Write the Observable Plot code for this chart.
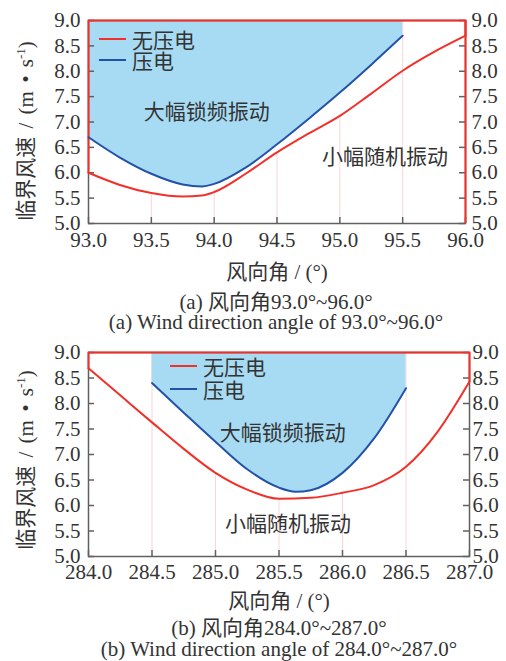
<!DOCTYPE html>
<html><head><meta charset="utf-8">
<script src="https://cdn.jsdelivr.net/npm/d3@7"></script>
<script src="https://cdn.jsdelivr.net/npm/@observablehq/plot@0.6"></script>
<style>
body{margin:0;background:#fff;}
#wrap{position:relative;width:506px;height:661px;overflow:hidden;font-family:"Liberation Serif","Noto Sans CJK SC",serif;color:#333;font-size:21px;}
.abs{position:absolute;white-space:nowrap;line-height:24px;}
.leg{position:absolute;white-space:nowrap;line-height:20px;}
.cen{position:absolute;left:0;width:506px;text-align:center;white-space:nowrap;line-height:22px;}
.panel{position:absolute;left:0;}
.lat{font-family:"Liberation Serif",serif;}
.cjk{font-family:"Noto Sans CJK SC",sans-serif;}
</style></head><body><div id="wrap"></div>
<script>
// ---------- data ----------
const yDomain = [5.0, 9.0];
const yTicks = [5.0, 5.5, 6.0, 6.5, 7.0, 7.5, 8.0, 8.5, 9.0];

// panel (a)
const xDomainA = [93.0, 96.0];
const xTicksA = [93.0, 93.5, 94.0, 94.5, 95.0, 95.5, 96.0];
const redXA = [93.0, 93.25, 93.5, 93.75, 93.9, 94.0, 94.25, 94.5, 94.75, 95.0, 95.25, 95.5, 95.75, 96.0];
const redYA = [6.00, 5.76, 5.60, 5.53, 5.55, 5.62, 5.98, 6.40, 6.77, 7.12, 7.56, 8.01, 8.38, 8.70];
const blueXA = [93.0, 93.25, 93.5, 93.75, 93.9, 94.0, 94.25, 94.5, 94.75, 95.0, 95.25, 95.5];
const blueYA = [6.70, 6.30, 5.98, 5.77, 5.73, 5.78, 6.10, 6.56, 7.06, 7.58, 8.13, 8.70];
const annoTextA = ["大幅锁频振动", "小幅随机振动"];
const annoXA = [93.94, 95.36];
const annoYA = [7.19, 6.30];
const captionA = ["(a) 风向角93.0°~96.0°", "(a) Wind direction angle of 93.0°~96.0°"];

// panel (b)
const xDomainB = [284.0, 287.0];
const xTicksB = [284.0, 284.5, 285.0, 285.5, 286.0, 286.5, 287.0];
const redXB = [284.0, 284.25, 284.5, 284.75, 285.0, 285.25, 285.5, 285.75, 286.0, 286.25, 286.5, 286.75, 287.0];
const redYB = [8.69, 8.16, 7.63, 7.11, 6.64, 6.31, 6.13, 6.15, 6.25, 6.40, 6.76, 7.45, 8.43];
const blueXB = [284.5, 284.75, 285.0, 285.25, 285.5, 285.63, 285.75, 286.0, 286.25, 286.5];
const blueYB = [8.40, 7.82, 7.25, 6.71, 6.35, 6.27, 6.30, 6.64, 7.32, 8.30];
const annoTextB = ["大幅锁频振动", "小幅随机振动"];
const annoXB = [285.53, 285.57];
const annoYB = [7.41, 5.63];
const captionB = ["(b) 风向角284.0°~287.0°", "(b) Wind direction angle of 284.0°~287.0°"];

const legendLabels = ["无压电", "压电"];
const xAxisLabel = "风向角 / (°)";
const yAxisLabel = "临界风速 / (m • s";
const yAxisSup = "-1";

// ---------- style ----------
const RED = "#f2302a", BLUE = "#2152a8", FILL = "#a7dbf4", AXIS = "#606060", GRID = "#f8d6d6";
const FONT = '"Liberation Serif","Noto Sans CJK SC",serif';
const CURVE = "monotone-x";
const wrap = document.getElementById("wrap");

// wrap runs of CJK / non-CJK chars in spans so Latin text stays in the serif face
function mixed(str) {
  const parts = str.match(/[\u3000-\u9fff\uff00-\uffef]+|[^\u3000-\u9fff\uff00-\uffef]+/g) || [];
  return parts.map(p => {
    const isCjk = /[\u3000-\u9fff\uff00-\uffef]/.test(p);
    const esc = p.replace(/&/g, "&amp;").replace(/</g, "&lt;");
    return `<span class="${isCjk ? "cjk" : "lat"}">${esc}</span>`;
  }).join("");
}

function panel(cfg) {
  const W = 506, mL = 88, mT = 20, mB = 30;
  const plotW = W - mL - cfg.mR, plotH = cfg.height - mT - mB;
  const [yMin, yMax] = yDomain;
  const red = cfg.redX.map((x, i) => ({x, y: cfg.redY[i]}));
  const blue = cfg.blueX.map((x, i) => ({x, y: cfg.blueY[i]}));
  const edge = [
    {x: cfg.xDomain[0], y: cfg.redY[0]}, {x: cfg.xDomain[0], y: yMax},
    {x: cfg.xDomain[1], y: yMax}, {x: cfg.xDomain[1], y: cfg.redY[cfg.redY.length - 1]}
  ];
  const grid = cfg.xTicks.slice(1, -1).map(x => {
    const atEdge = Math.abs(x - cfg.blueX[0]) < 1e-6 || Math.abs(x - cfg.blueX[cfg.blueX.length - 1]) < 1e-6;
    const r = red.find(d => Math.abs(d.x - x) < 1e-6);
    return {x, y2: atEdge ? yMax : (r ? r.y : yMax)};
  });
  const fmt = d => d.toFixed(1);
  const marks = [
    Plot.ruleX(grid, {x: "x", y1: () => yMin, y2: "y2", stroke: GRID, strokeWidth: 1}),
    Plot.areaY(blue, {x: "x", y1: "y", y2: () => yMax, fill: FILL, curve: CURVE}),
    Plot.frame({stroke: AXIS, strokeWidth: 1.5}),
    Plot.tickX(cfg.xTicks, {x: d => d, stroke: AXIS, strokeWidth: 1.5, insetTop: plotH - 6}),
    Plot.tickY(yTicks, {y: d => d, stroke: AXIS, strokeWidth: 1.5, insetRight: plotW - 6}),
    Plot.tickY(yTicks, {y: d => d, stroke: AXIS, strokeWidth: 1.5, insetLeft: plotW - 6}),
    Plot.line(edge, {x: "x", y: "y", stroke: RED, strokeWidth: 2}),
    cfg.redRightFull ? Plot.ruleX([cfg.xDomain[1]], {x: d => d, y1: () => yMin, y2: () => yMax, stroke: RED, strokeWidth: 2}) : null,
    Plot.line(red, {x: "x", y: "y", stroke: RED, strokeWidth: 2, curve: CURVE}),
    Plot.line(blue, {x: "x", y: "y", stroke: BLUE, strokeWidth: 2, curve: CURVE}),
    Plot.text(cfg.annoText, {x: (d, i) => cfg.annoX[i], y: (d, i) => cfg.annoY[i], text: d => d,
      fontSize: 21, fill: "#333", fontFamily: FONT}),
    Plot.axisX({ticks: cfg.xTicks, tickSize: 0, tickPadding: cfg.xPad, tickFormat: fmt, label: null, fill: "#333", fontFamily: FONT, fontSize: 21}),
    Plot.axisY({anchor: "left", ticks: yTicks, tickSize: 0, tickPadding: 8, tickFormat: fmt, label: null, fill: "#333", fontFamily: FONT, fontSize: 21}),
    Plot.axisY({anchor: "right", ticks: yTicks, tickSize: 0, tickPadding: cfg.rPad, tickFormat: fmt, label: null, fill: "#333", fontFamily: FONT, fontSize: 21})
  ].filter(Boolean);
  const svg = Plot.plot({
    width: W, height: cfg.height,
    marginLeft: mL, marginRight: cfg.mR, marginTop: mT, marginBottom: mB,
    x: {domain: cfg.xDomain},
    y: {domain: yDomain},
    style: {fontFamily: FONT, fontSize: "21px", color: "#333", background: "transparent", overflow: "visible"},
    marks
  });
  const holder = document.createElement("div");
  holder.className = "panel";
  holder.style.top = cfg.top + "px";
  holder.appendChild(svg);
  wrap.appendChild(holder);

  // legend
  [RED, BLUE].forEach((c, i) => {
    const cy = cfg.legTop + i * cfg.legGap;
    const s = document.createElementNS("http://www.w3.org/2000/svg", "svg");
    s.setAttribute("width", 28); s.setAttribute("height", 4);
    s.style.position = "absolute"; s.style.left = cfg.legLeft + "px"; s.style.top = (cy - 2) + "px";
    const ln = document.createElementNS("http://www.w3.org/2000/svg", "line");
    ln.setAttribute("x1", 0); ln.setAttribute("x2", 27); ln.setAttribute("y1", 2); ln.setAttribute("y2", 2);
    ln.setAttribute("stroke", c); ln.setAttribute("stroke-width", 2);
    s.appendChild(ln); wrap.appendChild(s);
    const t = document.createElement("div");
    t.className = "leg"; t.innerHTML = mixed(legendLabels[i]);
    t.style.left = (cfg.legLeft + 33) + "px"; t.style.top = (cy - 10) + "px";
    wrap.appendChild(t);
  });

  // axis labels
  const xl = document.createElement("div");
  xl.className = "abs"; xl.innerHTML = mixed(xAxisLabel);
  xl.style.left = cfg.xLabX + "px"; xl.style.top = cfg.xLabY + "px";
  xl.style.transform = "translate(-50%,-50%)";
  wrap.appendChild(xl);
  const yl = document.createElement("div");
  yl.className = "abs";
  yl.innerHTML = mixed(yAxisLabel) + '<span class="lat" style="font-size:13px;position:relative;top:-8px;">' + yAxisSup + '</span><span class="lat">)</span>';
  yl.style.left = "26px"; yl.style.top = cfg.yLabY + "px";
  yl.style.transform = "translate(-50%,-50%) rotate(-90deg)";
  yl.style.wordSpacing = "3px";
  wrap.appendChild(yl);

  // captions
  cfg.caption.forEach((c, i) => {
    const d = document.createElement("div");
    d.className = "cen"; d.innerHTML = mixed(c);
    d.style.left = cfg.capShift + "px";
    d.style.top = (cfg.capY[i] - 11) + "px";
    wrap.appendChild(d);
  });
}

panel({
  top: 0, height: 253, mR: 41, xDomain: xDomainA, xTicks: xTicksA,
  redX: redXA, redY: redYA, blueX: blueXA, blueY: blueYA,
  annoText: annoTextA, annoX: annoXA, annoY: annoYA, redRightFull: true,
  xPad: 9, rPad: 6, legLeft: 99, legTop: 39, legGap: 21,
  xLabX: 277, xLabY: 271, yLabY: 131, caption: captionA, capY: [300, 322], capShift: 23
});
panel({
  top: 332, height: 254, mR: 37, xDomain: xDomainB, xTicks: xTicksB,
  redX: redXB, redY: redYB, blueX: blueXB, blueY: blueYB,
  annoText: annoTextB, annoX: annoXB, annoY: annoYB, redRightFull: false,
  xPad: 8, rPad: 3, legLeft: 170, legTop: 366, legGap: 23,
  xLabX: 279, xLabY: 600, yLabY: 460, caption: captionB, capY: [626, 649], capShift: 26
});
</script></body></html>
